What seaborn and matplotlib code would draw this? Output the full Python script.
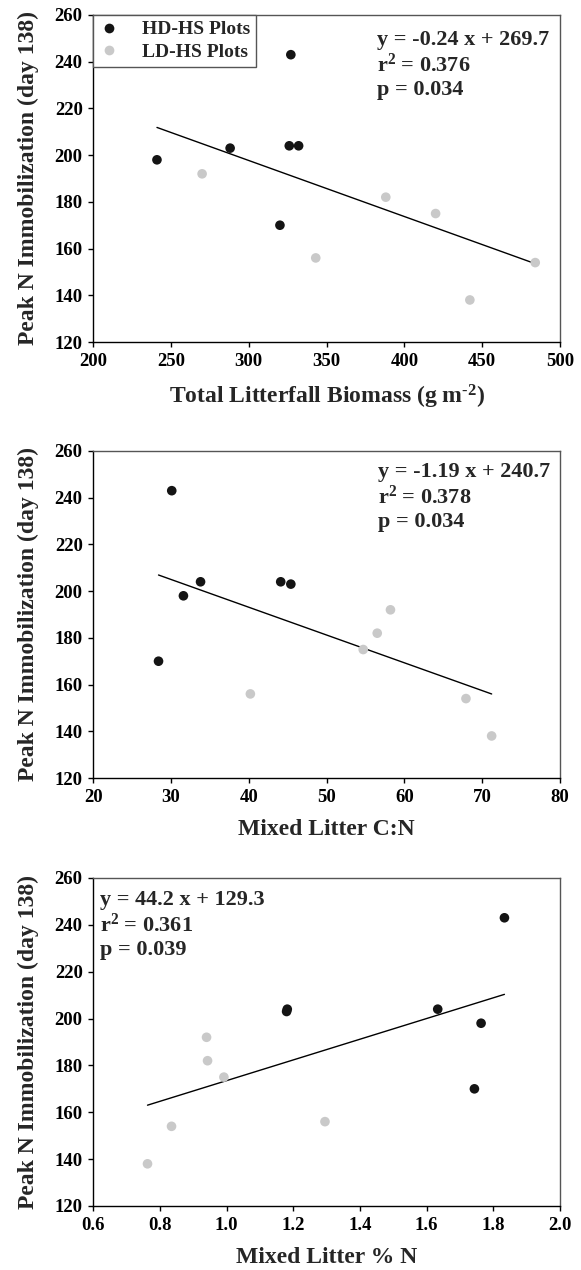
import numpy as np
import pandas as pd
import matplotlib
matplotlib.use("Agg")
import matplotlib.pyplot as plt
import seaborn as sns
from matplotlib.lines import Line2D

# ---------------- data ----------------
groups = ["HD-HS Plots", "LD-HS Plots"]
y_hd = [198, 203, 243, 204, 204, 170]
y_ld = [192, 182, 175, 156, 138, 154]

x1_hd = [241, 288, 327, 326, 332, 320]
x1_ld = [270, 388, 420, 343, 442, 484]

x2_hd = [31.6, 45.4, 30.1, 33.8, 44.1, 28.4]
x2_ld = [58.2, 56.5, 54.7, 40.2, 71.2, 67.9]

x3_hd = [1.763, 1.18, 1.833, 1.633, 1.182, 1.743]
x3_ld = [0.94, 0.943, 0.992, 1.295, 0.763, 0.835]

slopes = [-0.24, -1.19, 44.2]
intercepts = [269.7, 240.7, 129.3]
r2_vals = ["0.376", "0.378", "0.361"]
p_vals = ["0.034", "0.034", "0.039"]

x_labels = ["Total Litterfall Biomass (g m$^{\\text{-}2}$)", "Mixed Litter C:N", "Mixed Litter % N"]
y_label = "Peak N Immobilization (day 138)"
x_ticks = [[200, 250, 300, 350, 400, 450, 500],
           [20, 30, 40, 50, 60, 70, 80],
           [0.6, 0.8, 1.0, 1.2, 1.4, 1.6, 1.8, 2.0]]
x_ticklabels = [["200", "250", "300", "350", "400", "450", "500"],
                ["20", "30", "40", "50", "60", "70", "80"],
                ["0.6", "0.8", "1.0", "1.2", "1.4", "1.6", "1.8", "2.0"]]
y_ticks = [120, 140, 160, 180, 200, 220, 240, 260]

# ---------------- style ----------------
sns.set_style("ticks")
plt.rcParams["font.family"] = ["Liberation Serif", "DejaVu Serif"]
plt.rcParams["font.weight"] = "bold"
plt.rcParams["mathtext.fontset"] = "custom"
plt.rcParams["mathtext.rm"] = "Liberation Serif:bold"
plt.rcParams["mathtext.it"] = "Liberation Serif:bold"
plt.rcParams["mathtext.bf"] = "Liberation Serif:bold"

palette = {groups[0]: "#141414", groups[1]: "#c9c9c9"}

fig = plt.figure(figsize=(5.81, 12.70), dpi=100)
positions = [
    [0.1603, 0.7307, 0.8038, 0.2575],
    [0.1603, 0.3874, 0.8038, 0.2575],
    [0.1603, 0.0504, 0.8038, 0.2583],
]
text_pos = [(0.607, 0.955), (0.610, 0.965), (0.015, 0.962)]

x_hd_all = [x1_hd, x2_hd, x3_hd]
x_ld_all = [x1_ld, x2_ld, x3_ld]

for i in range(3):
    ax = fig.add_axes(positions[i])
    df = pd.DataFrame({
        "x": list(x_hd_all[i]) + list(x_ld_all[i]),
        "y": y_hd + y_ld,
        "group": [groups[0]] * len(y_hd) + [groups[1]] * len(y_ld),
    })
    sns.scatterplot(data=df, x="x", y="y", hue="group", palette=palette,
                    s=48, edgecolor="none", linewidth=0, legend=False, ax=ax, zorder=3)
    xs = np.array([df["x"].min(), df["x"].max()])
    ys = slopes[i] * xs + intercepts[i]
    sns.lineplot(x=xs, y=ys, color="black", linewidth=1.0, ax=ax, zorder=2)

    ax.set_xlim(x_ticks[i][0], x_ticks[i][-1])
    ax.set_ylim(120, 260)
    ax.set_xticks(x_ticks[i])
    ax.set_xticklabels(x_ticklabels[i])
    ax.set_yticks(y_ticks)
    ax.set_yticklabels([str(v) for v in y_ticks])
    ax.tick_params(axis="both", direction="out", length=3.5, width=1.0,
                   labelsize=13.5, colors="black")
    ax.tick_params(axis="x", pad=4.5)
    ax.tick_params(axis="y", pad=4)
    for lab in ax.get_xticklabels() + ax.get_yticklabels():
        lab.set_fontweight("bold")

    for side in ["left", "bottom"]:
        ax.spines[side].set_color("black")
        ax.spines[side].set_linewidth(1.0)
    for side in ["top", "right"]:
        ax.spines[side].set_visible(True)
        ax.spines[side].set_color("#555555")
        ax.spines[side].set_linewidth(1.0)

    ax.set_xlabel(x_labels[i], fontsize=17, fontweight="bold", labelpad=9)
    ax.set_ylabel(y_label, fontsize=17, fontweight="bold", labelpad=11)

    txt = (f"y = {slopes[i]} x + {intercepts[i]}\n"
           f"r$^2$ = {r2_vals[i]}\n"
           f"p = {p_vals[i]}")
    ax.text(text_pos[i][0], text_pos[i][1], txt, transform=ax.transAxes,
            ha="left", va="top", fontsize=16, fontweight="bold", linespacing=1.2)

    if i == 0:
        handles = [Line2D([0], [0], marker="o", linestyle="none", markersize=7,
                          markerfacecolor=palette[g], markeredgecolor="none")
                   for g in groups]
        leg = ax.legend(handles, groups, loc="upper left", bbox_to_anchor=(0, 1),
                        borderaxespad=0, frameon=True, fancybox=False,
                        prop={"family": "Liberation Serif", "weight": "bold", "size": 14},
                        handletextpad=1.2, labelspacing=0.25, borderpad=0.3,
                        handlelength=1.0)
        leg.get_frame().set_edgecolor("#555555")
        leg.get_frame().set_linewidth(1.0)
        leg.get_frame().set_alpha(1)

fig.savefig("out.png", dpi=100)
